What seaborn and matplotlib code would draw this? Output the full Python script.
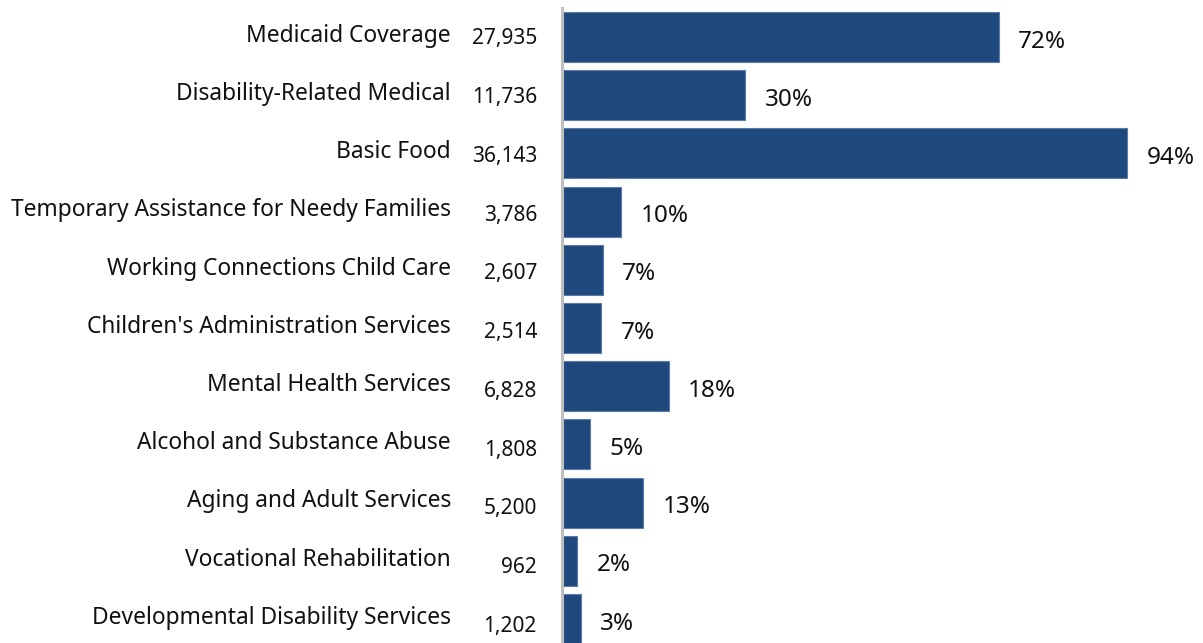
import matplotlib
matplotlib.use('Agg')
import matplotlib.pyplot as plt
import seaborn as sns
import pandas as pd

# 데이터
programs = ['Medicaid Coverage', 'Disability-Related Medical', 'Basic Food',
            'Temporary Assistance for Needy Families', 'Working Connections Child Care',
            "Children's Administration Services", 'Mental Health Services',
            'Alcohol and Substance Abuse', 'Aging and Adult Services',
            'Vocational Rehabilitation', 'Developmental Disability Services']
counts = [27935, 11736, 36143, 3786, 2607, 2514, 6828, 1808, 5200, 962, 1202]
pct_labels = ['72%', '30%', '94%', '10%', '7%', '7%', '18%', '5%', '13%', '2%', '3%']

df = pd.DataFrame({'program': programs, 'count': counts})

sns.set_style('white')
plt.rcParams['font.family'] = ['Noto Sans', 'DejaVu Sans']

fig = plt.figure(figsize=(12.03, 6.43), dpi=100)
ax = fig.add_axes([562 / 1203, -5 / 643, 641 / 1203, 640 / 643])

sns.barplot(data=df, x='count', y='program', orient='h', color='#1F497D',
            saturation=1, width=0.86, edgecolor='#5B7BA8', linewidth=0.8, ax=ax)

ax.set_xlim(0, 41000)
ax.set_ylim(10.5, -0.5)
ax.set_xticks([])
ax.set_yticks([])
ax.set_xlabel('')
ax.set_ylabel('')
for s in ['top', 'right', 'bottom']:
    ax.spines[s].set_visible(False)
ax.spines['left'].set_color('#BFBFBF')
ax.spines['left'].set_linewidth(2.2)

tr = ax.get_yaxis_transform()
for i, (name, c, p) in enumerate(zip(programs, counts, pct_labels)):
    ax.text(-0.173, i - 0.02, name, transform=tr, ha='right', va='center',
            fontsize=16.4, color='#111111')
    ax.text(-0.039, i + 0.03 + 0.01 * i, f'{c:,}', transform=tr, ha='right', va='center',
            fontsize=15, color='#111111')
    ax.text(c + 1250, i + 0.08, p, ha='left', va='center',
            fontsize=17.5, color='#111111')

fig.savefig('out.png', dpi=100)
